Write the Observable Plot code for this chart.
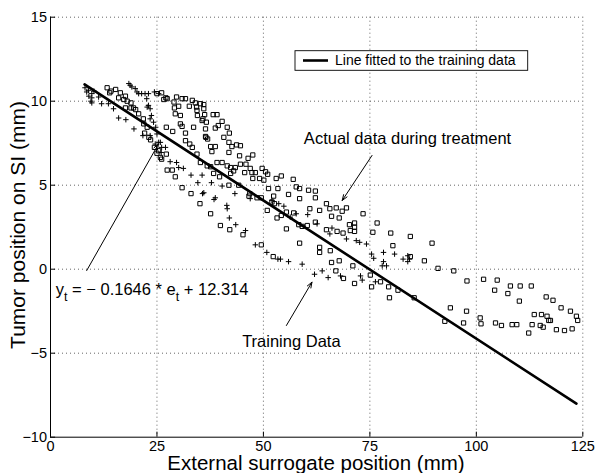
<!DOCTYPE html>
<html><head><meta charset="utf-8">
<script src="https://cdn.jsdelivr.net/npm/d3@7"></script>
<script src="https://cdn.jsdelivr.net/npm/@observablehq/plot@0.6"></script>
<style>body{margin:0;background:#fff} svg{display:block}</style>
</head><body><div id="chart"></div>
<script>
// Actual data during treatment (squares)
const actualX = [13.3,14.2,15.3,13.9,16.0,17.2,18.0,18.9,16.4,17.6,17.6,18.9,19.5,20.0,20.7,21.8,21.9,22.7,22.1,23.1,23.5,24.4,25.0,25.8,26.1,27.4,28.6,29.3,30.9,33.0,35.1,37.6,39.9,42.1,45.2,49.5,52.3,
25.0,26.1,26.6,27.4,29.0,29.6,30.9,30.1,29.1,29.3,30.5,30.5,30.9,31.7,31.7,32.7,33.3,34.4,35.2,36.8,37.6,39.1,40.3,41.5,42.3,43.0,43.4,44.6,45.9,46.9,48.1,47.3,49.7,50.5,51.0,45.6,42.3,38.3,39.7,49.1,47.5,50.1,53.0,54.2,57.0,57.7,58.5,53.4,51.2,55.9,52.4,60.6,62.2,62.2,44.2,41.9,46.8,48.5,
31.7,33.3,35.2,34.4,36.0,36.0,36.2,35.8,36.6,36.4,35.6,38.2,39.1,40.3,39.4,38.7,41.5,42.0,40.7,36.4,36.9,37.6,38.7,37.9,41.9,42.6,43.7,44.6,41.9,44.4,46.4,47.5,33.6,36.5,32.6,34.0,34.3,34.5,27.1,25.4,27.2,27.2,28.7,
46.6,49.5,50.9,52.0,52.6,53.2,54.2,55.4,55.4,57.1,58.3,59.1,60.3,58.5,60.9,62.2,63.2,58.5,63.2,63.2,64.8,65.6,66.0,67.1,67.8,68.5,69.5,73.4,70.2,71.4,71.4,70.4,71.4,68.7,67.3,64.8,76.7,75.7,79.9,84.5,80.4,89.6,65.7,84.5,87.8,91.0,94.7,66.0,67.8,71.0,67.0,68.8,71.4,75.1,75.4,77.5,79.4,81.6,79.6,85.4,92.6,93.9,97.0,97.7,97.8,
100.9,101.1,101.7,104.3,104.5,104.9,105.9,107.4,108.0,108.4,109.5,110.1,110.3,112.3,112.9,113.1,113.6,115.0,115.3,115.7,116.4,116.6,117.0,117.4,118.0,118.8,119.9,120.7,122.1,122.5,123.5,123.8];
const actualY = [10.8,10.6,10.7,10.5,10.2,10.1,10.0,9.9,10.5,10.3,9.6,9.6,9.6,9.5,9.25,8.95,8.65,8.45,8.1,7.85,7.7,7.25,6.9,6.65,6.55,5.9,5.9,5.5,4.85,4.5,3.9,3.3,2.6,2.35,2.05,1.45,0.75,
10.45,10.5,10.1,10.15,9.95,10.25,10.15,9.7,9.6,9.25,9.15,8.65,8.5,8.1,7.65,7.45,7.25,6.85,6.35,6.15,6.1,6.35,6.35,6.15,6.05,5.85,6.05,6.25,6.25,6.0,5.75,5.75,6.0,5.8,5.65,5.75,5.7,5.7,5.5,5.4,5.4,5.3,5.4,5.55,5.35,4.9,4.8,4.8,4.8,4.45,4.35,4.7,4.65,4.25,5.0,5.0,4.5,4.25,
10.15,10.05,9.85,9.45,9.8,9.55,9.2,8.95,8.75,8.35,8.85,9.2,9.2,8.8,8.55,8.4,8.45,8.1,7.85,7.9,7.75,7.3,7.3,7.0,7.55,7.3,7.4,7.35,6.95,6.75,6.6,6.8,8.45,7.85,9.7,9.9,9.65,9.15,10.2,7.05,6.85,8.45,8.2,
4.35,4.25,3.5,4.0,3.9,3.05,3.2,3.4,2.4,3.35,2.65,2.55,2.6,4.2,3.6,2.8,3.5,1.55,1.3,1.0,3.9,3.6,3.15,3.65,3.05,3.45,3.65,3.3,2.65,2.75,2.5,2.3,2.25,2.15,2.25,2.35,2.75,2.2,2.15,1.95,1.4,1.55,1.1,0.75,0.5,0.05,-0.1,0.4,0.5,0.2,-0.1,-0.55,-0.85,-0.35,-1.05,-0.75,-1.05,-1.25,-1.7,-1.7,-3.1,-2.3,-3.2,-2.5,-0.7,
-2.9,-3.25,-0.6,-1.25,-3.2,-0.65,-3.35,-1.45,-1.0,-3.3,-3.3,-1.9,-1.0,-3.8,-1.0,-3.3,-2.7,-3.35,-2.7,-3.45,-1.65,-2.8,-3.05,-3.05,-1.85,-3.6,-2.3,-3.65,-2.5,-3.55,-2.8,-3.05];

// Training data (plus markers)
const trainX = [8.1,8.5,8.9,9.7,9.0,9.7,9.5,9.7,10.2,11.3,12.0,13.6,14.8,16.0,17.7,19.6,21.7,23.4,24.6,25.4,26.1,27.0,26.0,28.1,29.6,30.1,31.2,33.0,34.6,35.7,35.6,37.8,40.3,43.3,38.7,46.9,36.0,38.4,41.4,41.5,42.0,43.5,45.8,48.1,50.8,53.4,54.0,55.9,59.1,62.0,63.8,65.2,68.1,72.8,73.2,76.3,
18.4,18.7,19.1,19.9,20.3,20.7,21.4,22.2,23.0,24.4,25.4,22.6,23.0,23.4,22.7,23.7,23.4,24.2,24.7,25.0,25.8,
52.0,53.6,54.8,56.3,57.7,60.4,62.6,66.1,65.6,69.5,71.8,72.6,74.2,75.4,75.9,78.2,78.2,77.9,78.9,80.8,82.8,83.9,84.3,83.9];
const trainY = [10.8,10.55,10.65,10.45,10.3,10.2,10.0,9.9,10.6,10.25,9.85,9.85,9.55,9.0,8.9,8.35,7.95,7.95,7.45,7.55,7.25,7.25,6.95,6.4,6.35,6.05,6.0,5.6,5.15,4.5,5.6,5.15,4.95,4.5,4.25,4.2,4.55,4.15,3.8,3.6,3.05,2.65,2.3,1.45,1.0,0.6,0.6,0.45,0.3,-0.3,-0.1,-0.5,-0.4,-0.4,-0.65,-0.75,
11.05,10.95,10.85,10.75,10.55,10.45,10.45,10.45,10.45,10.55,10.45,10.15,9.75,9.55,9.65,9.15,8.95,8.75,8.45,8.05,7.55,
4.1,3.9,3.75,3.1,3.3,3.25,2.7,2.45,2.1,1.8,1.7,1.6,1.5,0.9,0.65,1.0,0.45,0.2,0.2,0.9,0.6,0.45,0.6,0.8];

// Fitted line endpoints (y = -0.1646 x + 12.314)
const fitX = [8.0, 123.5];
const fitY = [11.0, -8.0];

// Ticks
const xTicks = [0, 25, 50, 75, 100, 125];
const yTicks = [-10, -5, 0, 5, 10, 15];

// Annotations
const labelText = ["Actual data during treatment", "Training Data"];
const labelX = [59.5, 45.0];
const labelY = [7.48, -4.64];
const arrowX1 = [75.5, 55.4, 8.5];
const arrowY1 = [6.77, -3.35, -0.08];
const arrowX2 = [68.5, 61.4, 25.35];
const arrowY2 = [4.09, -0.77, 7.45];
const eqX = 1.34, eqY = -1.57;

const fmt = d => d < 0 ? "\u2212" + Math.abs(d) : String(d);
const FONT = "'Liberation Sans', Arial, Helvetica, sans-serif";

const plot = Plot.plot({
  width: 595, height: 473,
  marginLeft: 50, marginRight: 12.7, marginTop: 16.7, marginBottom: 36.3,
  x: {domain: [0, 125]},
  y: {domain: [-10, 15]},
  style: {fontFamily: FONT, fontSize: "14.5px", background: "#fff", color: "#000"},
  marks: [
    Plot.ruleX(xTicks.slice(1), {stroke: "#555", strokeWidth: 0.9, strokeDasharray: "1,3"}),
    Plot.ruleY(yTicks.slice(1), {stroke: "#555", strokeWidth: 0.9, strokeDasharray: "1,3"}),
    Plot.ruleX([0], {stroke: "#000", strokeWidth: 1}),
    Plot.ruleY([-10], {stroke: "#000", strokeWidth: 1}),
    Plot.ruleX(xTicks, {x: d => d, y1: () => -10, y2: () => -9.7, stroke: "#000"}),
    Plot.ruleY(yTicks, {y: d => d, x1: () => 0, x2: () => 1.2, stroke: "#000"}),
    Plot.axisX(xTicks, {tickSize: 0, tickPadding: 4, tickFormat: fmt, fontSize: 14.5, label: null}),
    Plot.axisY(yTicks, {tickSize: 0, tickPadding: 3.5, tickFormat: fmt, fontSize: 14.5, label: null}),
    Plot.dot(d3.range(actualX.length), {x: i => actualX[i], y: i => actualY[i], symbol: "square", r: 2.4, stroke: "#000", strokeWidth: 1, fill: "none"}),
    Plot.dot(d3.range(trainX.length), {x: i => trainX[i], y: i => trainY[i], symbol: "plus", r: 1.9, stroke: "#000", strokeWidth: 1}),
    Plot.line(d3.range(fitX.length), {x: i => fitX[i], y: i => fitY[i], stroke: "#000", strokeWidth: 2.6}),
    Plot.arrow(d3.range(arrowX1.length), {x1: i => arrowX1[i], y1: i => arrowY1[i], x2: i => arrowX2[i], y2: i => arrowY2[i], stroke: "#000", strokeWidth: 1, headLength: 9, headAngle: 40}),
    Plot.text(d3.range(labelText.length), {x: i => labelX[i], y: i => labelY[i], text: i => labelText[i], textAnchor: "start", lineAnchor: "bottom", fontSize: 16.5, fill: "#000"})
  ]
});
document.getElementById("chart").appendChild(plot);

const svg = d3.select(plot);
const sx = v => plot.scale("x").apply(v);
const sy = v => plot.scale("y").apply(v);

// Equation with subscripts
const eq = svg.append("text").attr("x", sx(eqX)).attr("y", sy(eqY)).attr("text-anchor", "start")
  .attr("font-family", FONT).attr("font-size", 16.5).attr("fill", "#000").style("white-space", "pre");
eq.append("tspan").text("y");
eq.append("tspan").attr("dy", 6).attr("font-size", 12.5).text("t");
eq.append("tspan").attr("dy", -6).text(" = \u2212 0.1646 * e");
eq.append("tspan").attr("dy", 6).attr("font-size", 12.5).text("t");
eq.append("tspan").attr("dy", -6).text(" + 12.314");

// Legend
const lg = svg.append("g");
lg.append("rect").attr("x", 295).attr("y", 50.7).attr("width", 232.7).attr("height", 19.6)
  .attr("fill", "#fff").attr("stroke", "#000").attr("stroke-width", 0.9);
lg.append("line").attr("x1", 303).attr("x2", 328).attr("y1", 60.5).attr("y2", 60.5)
  .attr("stroke", "#000").attr("stroke-width", 2.6);
lg.append("text").attr("x", 335).attr("y", 60.5).attr("dy", "0.35em").attr("text-anchor", "start")
  .attr("font-family", FONT).attr("font-size", 14).attr("fill", "#000")
  .text("Line fitted to the training data");

// Axis titles
svg.append("text").attr("transform", "translate(25,225) rotate(-90)").attr("text-anchor", "middle")
  .attr("font-family", FONT).attr("font-size", 21).attr("fill", "#000").text("Tumor position on SI (mm)");
svg.append("text").attr("x", 316).attr("y", 469.5).attr("text-anchor", "middle")
  .attr("font-family", FONT).attr("font-size", 20.5).attr("fill", "#000").text("External surrogate position (mm)");
</script>
</body></html>
